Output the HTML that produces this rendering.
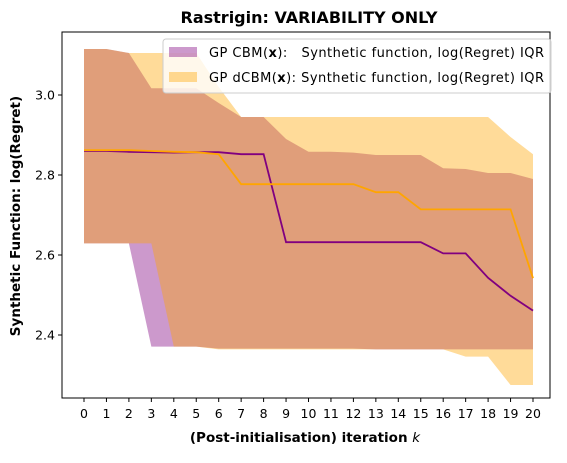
<!DOCTYPE html>
<html><head><meta charset="utf-8"><style>
body{margin:0;background:#fff;font-family:"Liberation Sans","DejaVu Sans",sans-serif}
svg text{font-family:"DejaVu Sans","Liberation Sans",sans-serif}
</style></head><body>
<svg id="chart" width="567" height="458" xmlns="http://www.w3.org/2000/svg">
<rect width="567" height="458" fill="#fff"/>
<text x="309" y="23" text-anchor="middle" font-size="16" font-weight="bold">Rastrigin: VARIABILITY ONLY</text>
<g id="bands"></g><g id="lines"></g><g id="axes"></g>
<rect x="62" y="32" width="488" height="366" fill="none" stroke="#000" stroke-width="1"/>
<g>
<rect x="163" y="39" width="388" height="54" rx="3" fill="#fff" fill-opacity="0.8" stroke="#ccc"/>
<rect x="169" y="47" width="28" height="10" fill="#800080" fill-opacity="0.4"/>
<text x="209" y="57" font-size="13" textLength="335" lengthAdjust="spacing">GP CBM(<tspan font-weight="bold">x</tspan>):&#160;&#160;&#160;Synthetic function, log(Regret) IQR</text>
<rect x="169" y="72" width="28" height="10" fill="#FFA500" fill-opacity="0.4"/>
<text x="209" y="82" font-size="13" textLength="335" lengthAdjust="spacing">GP dCBM(<tspan font-weight="bold">x</tspan>): Synthetic function, log(Regret) IQR</text>
</g>
<text x="305" y="442" text-anchor="middle" font-size="13.5" font-weight="bold">(Post-initialisation) iteration <tspan font-style="italic" font-weight="normal">k</tspan></text>
<text transform="translate(20,216) rotate(-90)" text-anchor="middle" font-size="13.5" font-weight="bold">Synthetic Function: log(Regret)</text>
</svg>
<script>
const iterations=[0,1,2,3,4,5,6,7,8,9,10,11,12,13,14,15,16,17,18,19,20];
const cbmMedian=[2.86,2.86,2.858,2.857,2.856,2.857,2.857,2.852,2.852,2.632,2.632,2.632,2.632,2.632,2.632,2.632,2.604,2.604,2.543,2.498,2.461];
const cbmUpper=[3.115,3.115,3.105,3.017,3.017,3.017,2.98,2.945,2.945,2.89,2.858,2.858,2.856,2.85,2.85,2.85,2.817,2.815,2.805,2.805,2.79];
const cbmLower=[2.629,2.629,2.629,2.371,2.371,2.371,2.366,2.366,2.366,2.366,2.366,2.366,2.366,2.364,2.364,2.364,2.364,2.364,2.364,2.364,2.364];
const dcbmMedian=[2.862,2.862,2.862,2.86,2.858,2.857,2.852,2.777,2.777,2.777,2.777,2.777,2.777,2.757,2.757,2.714,2.714,2.714,2.714,2.714,2.542];
const dcbmUpper=[3.115,3.115,3.105,3.105,3.105,3.105,3.02,2.945,2.945,2.945,2.945,2.945,2.945,2.945,2.945,2.945,2.945,2.945,2.945,2.895,2.852];
const dcbmLower=[2.629,2.629,2.629,2.629,2.371,2.371,2.364,2.364,2.364,2.364,2.364,2.364,2.364,2.364,2.364,2.364,2.364,2.346,2.346,2.275,2.275];
const yTicks=[2.4,2.6,2.8,3.0];
const yTickLabels=["2.4","2.6","2.8","3.0"];
const NS="http://www.w3.org/2000/svg";
const xs=i=>84+i*22.45;
const ys=v=>95+(3.0-v)*400;
function mk(tag,attrs,parent){const e=document.createElementNS(NS,tag);for(const k in attrs)e.setAttribute(k,attrs[k]);parent.appendChild(e);return e;}
function band(up,lo,color,name){
  let d="M"+iterations.map((x,i)=>xs(x)+","+ys(up[i])).join("L");
  for(let i=iterations.length-1;i>=0;i--)d+="L"+xs(iterations[i])+","+ys(lo[i]);
  const p=mk("path",{d:d+"Z",fill:color,"fill-opacity":0.4},document.getElementById("bands"));
  
  
}
function line(m,color,name){
  const p=mk("polyline",{points:iterations.map((x,i)=>xs(x)+","+ys(m[i])).join(" "),fill:"none",stroke:color,"stroke-width":1.8},document.getElementById("lines"));
  
  
}
band(cbmUpper,cbmLower,"#800080","cbm-iqr-band");
band(dcbmUpper,dcbmLower,"#FFA500","dcbm-iqr-band");
line(cbmMedian,"#800080","cbm-median-line");
line(dcbmMedian,"#FFA500","dcbm-median-line");
const ax=document.getElementById("axes");
iterations.forEach(x=>{
  mk("line",{x1:xs(x),x2:xs(x),y1:398,y2:402,stroke:"#000"},ax);
  const t=mk("text",{x:xs(x),y:418,"text-anchor":"middle","font-size":12.5},ax);
  t.textContent=x;
  
  
});
yTicks.forEach((v,i)=>{
  mk("line",{x1:58,x2:62,y1:ys(v),y2:ys(v),stroke:"#000"},ax);
  const t=mk("text",{x:55,y:ys(v)+4.5,"text-anchor":"end","font-size":12.5},ax);
  t.textContent=yTickLabels[i];
  
  
});
</script>
</body></html>
